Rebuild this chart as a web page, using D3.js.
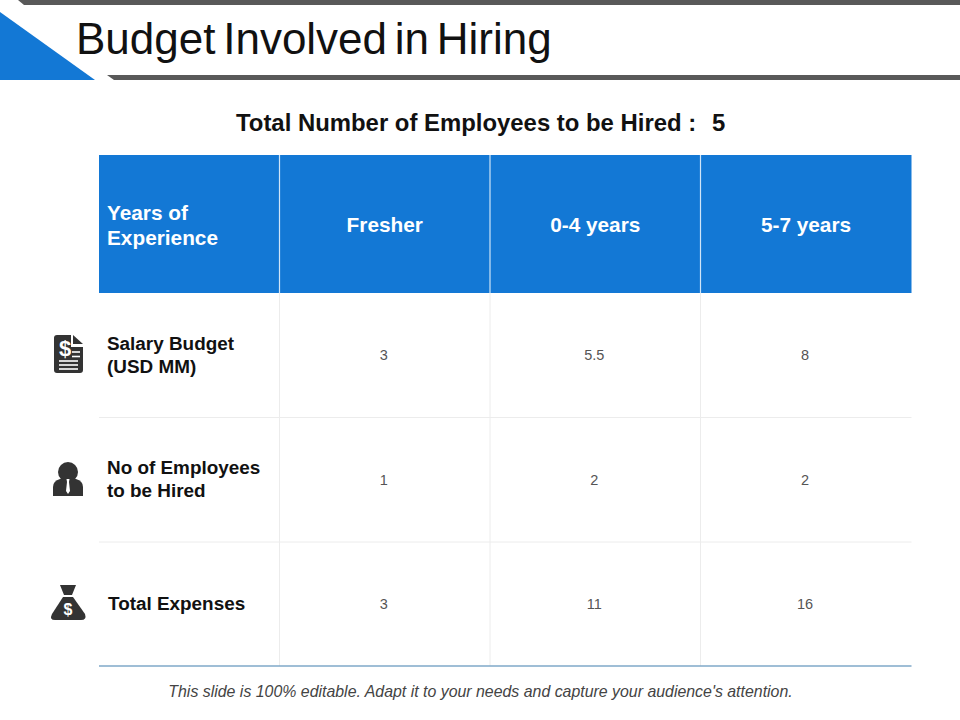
<!DOCTYPE html>
<html><head><meta charset="utf-8">
<script src="https://cdn.jsdelivr.net/npm/d3@7"></script>
<style>html,body{margin:0;padding:0;background:#fff}svg{display:block}text{font-family:"Liberation Sans",Arial,sans-serif}</style>
</head><body><svg id="c" width="960" height="720"></svg>
<script>
const title = ["Budget", "Involved", "in", "Hiring"];
const subtitle = "Total Number of Employees to be Hired :";
const subtitleValue = "5";
const footer = "This slide is 100% editable. Adapt it to your needs and capture your audience's attention.";
const columns = ["Fresher", "0-4 years", "5-7 years"];
const headerLines = ["Years of", "Experience"];
const rowLabels = [["Salary Budget", "(USD MM)"], ["No of Employees", "to be Hired"], ["Total Expenses"]];
const salaryBudget = ["3", "5.5", "8"];
const employees = ["1", "2", "2"];
const totalExpenses = ["3", "11", "16"];
const rowValues = [salaryBudget, employees, totalExpenses];

const blue = "#1378d5", dark = "#595959", icon = "#333333";
const svg = d3.select("#c");
const colEdges = [99, 279.5, 490, 700.5, 911.5];
const rowEdges = [155, 293, 417.5, 542, 666];
const x = d3.scaleOrdinal().domain(d3.range(5)).range(colEdges);
const y = d3.scaleOrdinal().domain(d3.range(5)).range(rowEdges);

// slide decoration
svg.append("path").attr("d","M0,12 L95,80 L0,80 Z").attr("fill",blue);
svg.append("path").attr("d","M18,0 L960,0 L960,5 L24,5 Z").attr("fill",dark);
svg.append("path").attr("d","M107,75 L960,75 L960,80 L114,80 Z").attr("fill",dark);
svg.append("text").attr("x",76).attr("y",54).attr("font-size",44).attr("fill","#111").attr("word-spacing",-4.5).text(title.join(" "));

svg.append("text").attr("x",236).attr("y",131).attr("font-size",23.9).attr("font-weight",700).attr("fill","#111").text(subtitle);
svg.append("text").attr("x",712).attr("y",131).attr("font-size",23.9).attr("font-weight",700).attr("fill","#111").text(subtitleValue);

// table
svg.append("rect").attr("x",x(0)).attr("y",y(0)).attr("width",x(4)-x(0)).attr("height",y(1)-y(0)).attr("fill",blue);
[1,2,3].forEach(i=>{
  svg.append("line").attr("x1",x(i)).attr("x2",x(i)).attr("y1",y(0)).attr("y2",y(1)).attr("stroke","#cfe4f7").attr("stroke-width",1.2);
  svg.append("line").attr("x1",x(i)).attr("x2",x(i)).attr("y1",y(1)).attr("y2",y(4)).attr("stroke","#ececec");
});
[2,3].forEach(i=>svg.append("line").attr("x1",x(0)).attr("x2",x(4)).attr("y1",y(i)).attr("y2",y(i)).attr("stroke","#ececec"));
svg.append("line").attr("x1",x(0)).attr("x2",x(4)).attr("y1",y(4)).attr("y2",y(4)).attr("stroke","#7fa8c9").attr("stroke-width",1.4);

headerLines.forEach((t,i)=>svg.append("text").attr("x",107).attr("y",220+i*25).attr("font-size",20.8).attr("font-weight",700).attr("fill","#fff").text(t));
columns.forEach((t,i)=>svg.append("text").attr("x",(x(i+1)+x(i+2))/2).attr("y",232).attr("text-anchor","middle").attr("font-size",20.8).attr("font-weight",700).attr("fill","#fff").text(t));

rowLabels.forEach((ls,r)=>{
  const cy=(y(r+1)+y(r+2))/2-1;
  ls.forEach((t,i)=>svg.append("text").attr("x",r===2?108:107).attr("y",cy+7+(i-(ls.length-1)/2)*23).attr("font-size",18.9).attr("font-weight",700).attr("fill","#111").text(t));
  rowValues[r].forEach((v,c)=>svg.append("text").attr("x",(x(c+1)+x(c+2))/2-1).attr("y",cy+6).attr("text-anchor","middle").attr("font-size",14.5).attr("fill","#555").text(v));
});

svg.append("text").attr("x",480.5).attr("y",697).attr("text-anchor","middle").attr("font-size",15.9).attr("font-style","italic").attr("fill","#444").text(footer);

// icons
const doc = svg.append("g").attr("fill",icon);
doc.append("path").attr("d","M57,335 L71,335 L71,347 L83,347 L83,370 Q83,373 80,373 L57,373 Q54,373 54,370 L54,338 Q54,335 57,335 Z");
doc.append("path").attr("d","M73,335 L83,344 L73,344 Z");
doc.append("text").attr("x",65).attr("y",356).attr("text-anchor","middle").attr("font-size",22).attr("font-weight",700).attr("fill","#fff").text("$");
[[72,80,352],[72,80,356.5],[59,78,361],[59,78,365],[59,78,369]].forEach(d=>doc.append("line").attr("x1",d[0]).attr("x2",d[1]).attr("y1",d[2]).attr("y2",d[2]).attr("stroke","#fff").attr("stroke-width",1.6));

const man = svg.append("g").attr("fill",icon);
man.append("circle").attr("cx",68).attr("cy",472).attr("r",10);
man.append("path").attr("d","M53,496 L53,487 Q53,481 60,479 L65,478 L71,478 L76,479 Q83,481 83,487 L83,496 Z");
man.append("path").attr("d","M66.5,479 L69.5,479 L69,482 L70,491 L68,494 L66,491 L67,482 Z").attr("fill","#fff");

const bag = svg.append("g").attr("fill",icon);
bag.append("path").attr("d","M60,585 L76,585 L72,595 L64,595 Z");
bag.append("path").attr("d","M63,597 L73,597 L85,614 Q87,620 81,620 L55,620 Q49,620 52,614 Z");
bag.append("text").attr("x",68).attr("y",615).attr("text-anchor","middle").attr("font-size",16).attr("font-weight",700).attr("fill","#fff").text("$");
</script></body></html>
